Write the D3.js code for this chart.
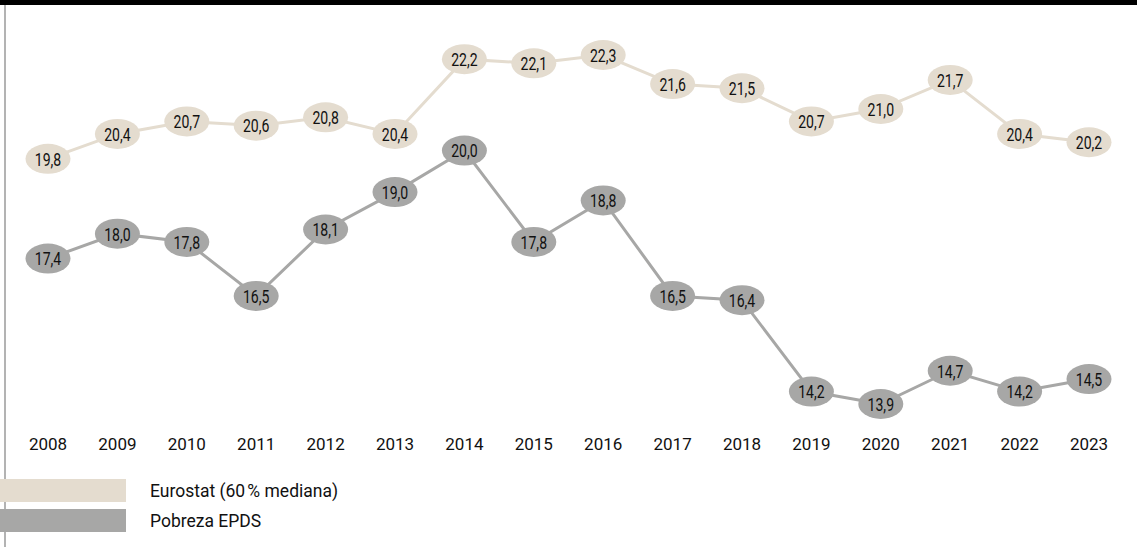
<!DOCTYPE html>
<html><head><meta charset="utf-8">
<script src="https://cdn.jsdelivr.net/npm/d3@7"></script>
<style>
html,body{margin:0;padding:0;background:#fff;}
svg{display:block;}
.lbl{font-family:Roboto,sans-serif;font-size:19px;font-weight:400;fill:#111;}
.yr{font-family:Roboto,"Inter",sans-serif;font-size:17px;fill:#111;}
.leg{font-family:Roboto,"Inter",sans-serif;font-size:17.5px;fill:#111;}
</style></head>
<body>
<script>
const years = [2008,2009,2010,2011,2012,2013,2014,2015,2016,2017,2018,2019,2020,2021,2022,2023];
const eurostat = [19.8,20.4,20.7,20.6,20.8,20.4,22.2,22.1,22.3,21.6,21.5,20.7,21.0,21.7,20.4,20.2];
const epds = [17.4,18.0,17.8,16.5,18.1,19.0,20.0,17.8,18.8,16.5,16.4,14.2,13.9,14.7,14.2,14.5];
const seriesNames = ["Eurostat (60\u202F% mediana)","Pobreza EPDS"];
const colors = ["#e4dccf","#a7a7a6"];

const W=1137,H=547;
const svg=d3.select("body").append("svg").attr("width",W).attr("height",H);

svg.append("rect").attr("x",0).attr("y",0).attr("width",W).attr("height",5).attr("fill","#000");
svg.append("line").attr("x1",5).attr("x2",5).attr("y1",5).attr("y2",H).attr("stroke","#9a9a9a").attr("stroke-width",1.5);

const x=d3.scalePoint().domain(years).range([48,1089]);
const y=d3.scaleLinear().domain([13.9,22.3]).range([404,55]);

const fmt=v=>d3.format(".1f")(v).replace(".",",");

[eurostat,epds].forEach((vals,i)=>{
  const g=svg.append("g");
  const line=d3.line().x((d,j)=>x(years[j])).y(d=>y(d));
  g.append("path").attr("d",line(vals)).attr("fill","none").attr("stroke",colors[i]).attr("stroke-width",3);
  const n=g.selectAll("g.n").data(vals).join("g").attr("transform",(d,j)=>`translate(${x(years[j])},${y(d)})`);
  n.append("ellipse").attr("rx",22.5).attr("ry",15).attr("fill",colors[i]);
  n.append("text").attr("class","lbl").attr("text-anchor","middle").attr("dy","0.36em")
    .attr("transform","scale(0.74,1)").text(fmt);
});

svg.append("g").selectAll("text").data(years).join("text").attr("class","yr")
  .attr("x",d=>x(d)).attr("y",450).attr("text-anchor","middle").text(d=>d);

const leg=svg.append("g");
seriesNames.forEach((s,i)=>{
  leg.append("rect").attr("x",0).attr("y",479+i*30).attr("width",126).attr("height",23).attr("fill",colors[i]);
  leg.append("text").attr("class","leg").attr("x",150).attr("y",497+i*30).text(s);
});
</script>
</body></html>
